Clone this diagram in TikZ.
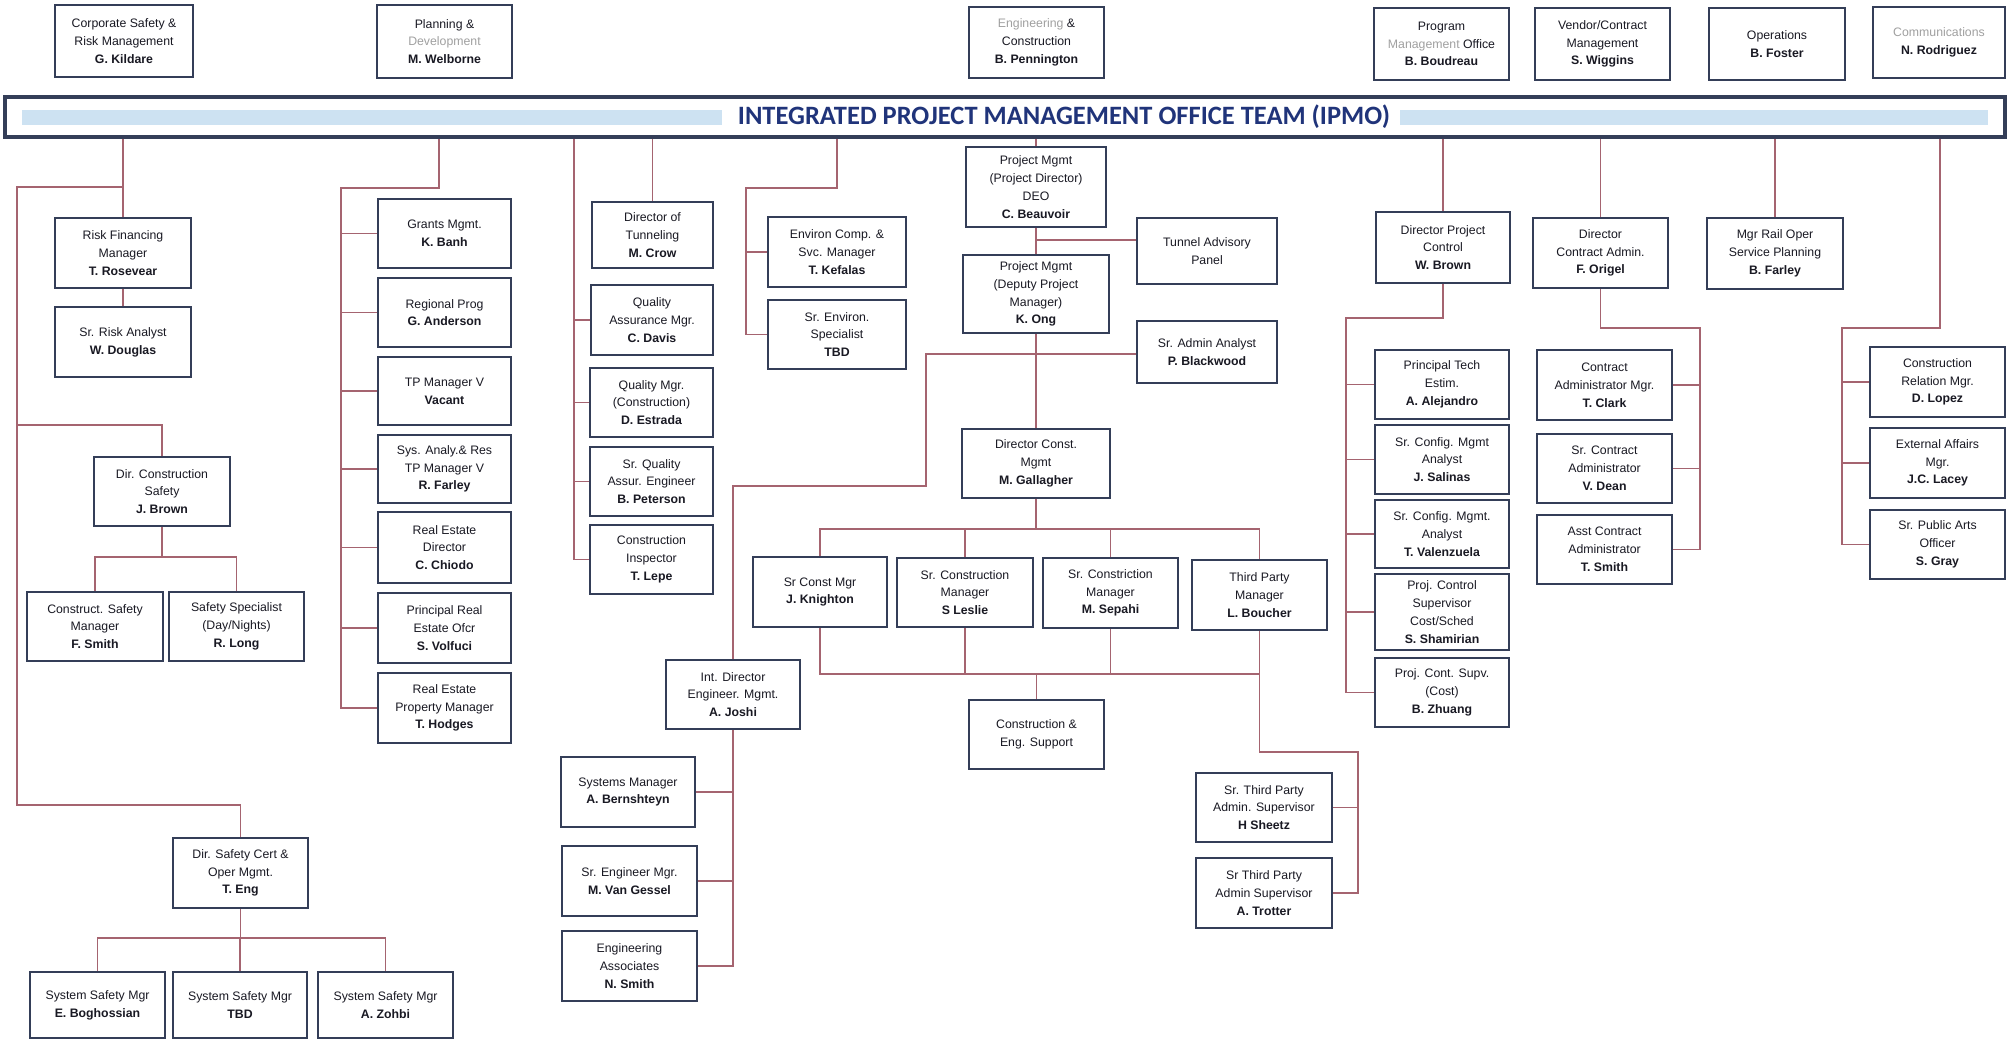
\documentclass[tikz,border=0pt]{standalone}
\usepackage{fontspec}
\setmainfont{Liberation Sans}
\newfontfamily\titlefont{Carlito}
\definecolor{boxc}{RGB}{52,62,88}
\definecolor{linec}{RGB}{165,100,112}
\definecolor{titlec}{RGB}{32,52,122}
\definecolor{bandc}{RGB}{205,226,242}
\definecolor{txt}{RGB}{25,25,35}
\definecolor{faded}{RGB}{160,160,160}
\newcommand\fd[1]{\textcolor{faded}{#1}}
\newcommand\nm[1]{\textbf{#1}}
% box given by its corners (x1,y1)-(x2,y2), y measured downwards
\newcommand\orgnode[6]{\node[orgbox, minimum width={#4-#2}, minimum height={#5-#3}] (#1) at ({(#2+#4)/2},{(#3+#5)/2}) {#6};}

\begin{document}
\begin{tikzpicture}[x=1pt,y=-1pt,
  orgbox/.style={draw=boxc, line width=2.7pt, fill=white, align=center, inner sep=0pt,
    text=txt, font=\fontsize{12.3}{17.8}\selectfont},
  conn/.style={draw=linec, line width=1.3pt}]
\fill[white] (0,0) rectangle (2009,1042);
\useasboundingbox (0,0) rectangle (2009,1042);

% ---------- title banner ----------
\node[draw=boxc, line width=3.5pt, fill=white, minimum width=2000pt, minimum height=40pt, inner sep=0pt] (ipmo) at (1005,117) {};
\fill[bandc] (22,110) rectangle (722,125);
\fill[bandc] (1400,110) rectangle (1988,125);
\node[font=\titlefont\bfseries\fontsize{26.5}{30}\selectfont, text=titlec, inner sep=0pt] (title) at (1064,117) {INTEGRATED PROJECT MANAGEMENT OFFICE TEAM (IPMO)};

% ---------- top row ----------
\orgnode{corp}{55}{5}{193}{77}{Corporate Safety \&\\Risk Management\\\nm{G. Kildare}}
\orgnode{plan}{377}{5}{512}{78}{Planning \&\\\fd{Development}\\\nm{M. Welborne}}
\orgnode{eng}{969}{7}{1104}{78}{\fd{Engineering} \&\\Construction\\\nm{B. Pennington}}
\orgnode{pmo}{1374}{8}{1509}{80}{Program\\\fd{Management} Office\\\nm{B. Boudreau}}
\orgnode{vend}{1535}{8}{1670}{80}{Vendor/Contract\\Management\\\nm{S. Wiggins}}
\orgnode{ops}{1709}{8}{1845}{80}{Operations\\\nm{B. Foster}}
\orgnode{comm}{1873}{7}{2005}{78}{\fd{Communications}\\\nm{N. Rodriguez}}

% ---------- corporate safety branch ----------
\orgnode{risk}{55}{218}{191}{288}{Risk Financing\\Manager\\\nm{T. Rosevear}}
\orgnode{ra}{55}{307}{191}{377}{Sr. Risk Analyst\\\nm{W. Douglas}}
\orgnode{dcs}{94}{457}{230}{526}{Dir. Construction\\Safety\\\nm{J. Brown}}
\orgnode{csm}{27}{592}{163}{661}{Construct. Safety\\Manager\\\nm{F. Smith}}
\orgnode{ssp}{169}{592}{304}{661}{Safety Specialist\\(Day/Nights)\\\nm{R. Long}}
\orgnode{dsc}{173}{838}{308}{908}{Dir. Safety Cert \&\\Oper Mgmt.\\\nm{T. Eng}}
\orgnode{ssa}{30}{972}{165}{1038}{System Safety Mgr\\\nm{E. Boghossian}}
\orgnode{ssb}{173}{972}{307}{1038}{System Safety Mgr\\\nm{TBD}}
\orgnode{ssc}{318}{972}{453}{1038}{System Safety Mgr\\\nm{A. Zohbi}}

% ---------- planning branch ----------
\orgnode{grants}{378}{199}{511}{268}{Grants Mgmt.\\\nm{K. Banh}}
\orgnode{reg}{378}{278}{511}{347}{Regional Prog\\\nm{G. Anderson}}
\orgnode{tp}{378}{357}{511}{425}{TP Manager V\\\nm{Vacant}}
\orgnode{sys}{378}{435}{511}{503}{Sys. Analy.\& Res\\TP Manager V\\\nm{R. Farley}}
\orgnode{red}{378}{512}{511}{583}{Real Estate\\Director\\\nm{C. Chiodo}}
\orgnode{pre}{378}{593}{511}{663}{Principal Real\\Estate Ofcr\\\nm{S. Volfuci}}
\orgnode{rep}{378}{673}{511}{743}{Real Estate\\Property Manager\\\nm{T. Hodges}}

% ---------- tunneling / quality ----------
\orgnode{tun}{592}{202}{713}{268}{Director of\\Tunneling\\\nm{M. Crow}}
\orgnode{qa}{591}{285}{713}{355}{Quality\\Assurance Mgr.\\\nm{C. Davis}}
\orgnode{qm}{590}{368}{713}{437}{Quality Mgr.\\(Construction)\\\nm{D. Estrada}}
\orgnode{sqa}{590}{447}{713}{516}{Sr. Quality\\Assur. Engineer\\\nm{B. Peterson}}
\orgnode{ci}{590}{525}{713}{594}{Construction\\Inspector\\\nm{T. Lepe}}

% ---------- environmental ----------
\orgnode{env}{768}{217}{906}{287}{Environ Comp. \&\\Svc. Manager\\\nm{T. Kefalas}}
\orgnode{sre}{768}{300}{906}{369}{Sr. Environ.\\Specialist\\\nm{TBD}}

% ---------- engineering & construction ----------
\orgnode{deo}{966}{147}{1106}{227}{Project Mgmt\\(Project Director)\\DEO\\\nm{C. Beauvoir}}
\orgnode{ong}{963}{255}{1109}{333}{Project Mgmt\\(Deputy Project\\Manager)\\\nm{K. Ong}}
\orgnode{tap}{1137}{218}{1277}{284}{Tunnel Advisory\\Panel}
\orgnode{blk}{1137}{321}{1277}{383}{Sr. Admin Analyst\\\nm{P. Blackwood}}
\orgnode{gal}{962}{429}{1110}{498}{Director Const.\\Mgmt\\\nm{M. Gallagher}}
\orgnode{kn}{753}{557}{887}{627}{Sr Const Mgr\\\nm{J. Knighton}}
\orgnode{les}{897}{558}{1033}{627}{Sr. Construction\\Manager\\\nm{S Leslie}}
\orgnode{sep}{1043}{558}{1178}{628}{Sr. Constriction\\Manager\\\nm{M. Sepahi}}
\orgnode{bou}{1192}{560}{1327}{630}{Third Party\\Manager\\\nm{L. Boucher}}
\orgnode{ces}{969}{700}{1104}{769}{Construction \&\\Eng. Support}
\orgnode{sh}{1196}{773}{1332}{842}{Sr. Third Party\\Admin. Supervisor\\\nm{H Sheetz}}
\orgnode{tr}{1196}{858}{1332}{928}{Sr Third Party\\Admin Supervisor\\\nm{A. Trotter}}
\orgnode{jo}{666}{660}{800}{729}{Int. Director\\Engineer. Mgmt.\\\nm{A. Joshi}}
\orgnode{ber}{561}{757}{695}{827}{Systems Manager\\\nm{A. Bernshteyn}}
\orgnode{vg}{562}{846}{697}{916}{Sr. Engineer Mgr.\\\nm{M. Van Gessel}}
\orgnode{ns}{562}{931}{697}{1001}{Engineering\\Associates\\\nm{N. Smith}}

% ---------- program management office ----------
\orgnode{wb}{1376}{212}{1510}{283}{Director Project\\Control\\\nm{W. Brown}}
\orgnode{pte}{1375}{350}{1509}{419}{Principal Tech\\Estim.\\\nm{A. Alejandro}}
\orgnode{sal}{1375}{425}{1509}{494}{Sr. Config. Mgmt\\Analyst\\\nm{J. Salinas}}
\orgnode{val}{1375}{500}{1509}{568}{Sr. Config. Mgmt.\\Analyst\\\nm{T. Valenzuela}}
\orgnode{sha}{1375}{574}{1509}{650}{Proj. Control\\Supervisor\\Cost/Sched\\\nm{S. Shamirian}}
\orgnode{zh}{1375}{658}{1509}{727}{Proj. Cont. Supv.\\(Cost)\\\nm{B. Zhuang}}

% ---------- contract administration ----------
\orgnode{fo}{1533}{218}{1668}{288}{Director\\Contract Admin.\\\nm{F. Origel}}
\orgnode{tc}{1537}{350}{1672}{420}{Contract\\Administrator Mgr.\\\nm{T. Clark}}
\orgnode{vd}{1537}{434}{1672}{503}{Sr. Contract\\Administrator\\\nm{V. Dean}}
\orgnode{ts}{1537}{515}{1672}{584}{Asst Contract\\Administrator\\\nm{T. Smith}}

% ---------- operations ----------
\orgnode{bf}{1707}{218}{1843}{289}{Mgr Rail Oper\\Service Planning\\\nm{B. Farley}}

% ---------- communications ----------
\orgnode{dl}{1870}{347}{2005}{417}{Construction\\Relation Mgr.\\\nm{D. Lopez}}
\orgnode{jl}{1870}{428}{2005}{498}{External Affairs\\Mgr.\\\nm{J.C. Lacey}}
\orgnode{sg}{1870}{510}{2005}{579}{Sr. Public Arts\\Officer\\\nm{S. Gray}}

% ================= connectors =================
% corporate safety
\coordinate (c1) at (17,187);
\coordinate (c2) at (17,805);
\coordinate (c3) at (17,425);
\coordinate (c4) at (0,557);
\coordinate (c5) at (0,938);
\draw[conn] (ipmo.south -| risk.north) -- (risk.north);
\draw[conn] (risk.south) -- (ra.north);
\draw[conn] (risk.north |- c1) -- (c1) -- (c2) -| (dsc.north);
\draw[conn] (c3) -| (dcs.north);
\draw[conn] (dcs.south) -- (dcs.south |- c4);
\draw[conn] (csm.north) |- (ssp.north |- c4) -- (ssp.north);
\draw[conn] (dsc.south) -- (dsc.south |- c5);
\draw[conn] (ssa.north) |- (ssc.north |- c5) -- (ssc.north);
\draw[conn] (ssb.north) -- (ssb.north |- c5);

% planning
\coordinate (p1) at (439,188);
\coordinate (p2) at (341,188);
\draw[conn] (ipmo.south -| p1) -- (p1) -- (p2) |- (rep.west);
\foreach \n in {grants,reg,tp,sys,red,pre} \draw[conn] (p2 |- \n.west) -- (\n.west);

% tunneling and quality
\coordinate (q1) at (574,0);
\draw[conn] (ipmo.south -| q1) |- (ci.west);
\foreach \n in {qa,qm,sqa} \draw[conn] (q1 |- \n.west) -- (\n.west);
\draw[conn] (ipmo.south -| tun.north) -- (tun.north);

% environmental
\coordinate (e1) at (837,188);
\coordinate (e2) at (746,188);
\draw[conn] (ipmo.south -| e1) -- (e1) -- (e2) |- (sre.west);
\draw[conn] (e2 |- env.west) -- (env.west);

% engineering & construction
\coordinate (d1) at (1036,240);
\coordinate (d2) at (1036,354);
\coordinate (d3) at (926,486);
\coordinate (g1) at (0,529);
\coordinate (g2) at (0,674);
\coordinate (t1) at (1358,752);
\draw[conn] (ipmo.south -| deo.north) -- (deo.north);
\draw[conn] (deo.south) -- (ong.north);
\draw[conn] (d1) -- (d1 -| tap.west);
\draw[conn] (ong.south) -- (gal.north);
\draw[conn] (d2) -- (d2 -| blk.west);
\draw[conn] (d2) -| (d3) -| (jo.north);
\draw[conn] (gal.south) -- (gal.south |- g1);
\draw[conn] (kn.north) |- (bou.north |- g1) -- (bou.north);
\draw[conn] (les.north) -- (les.north |- g1);
\draw[conn] (sep.north) -- (sep.north |- g1);
\draw[conn] (kn.south) |- (bou.south |- g2);
\draw[conn] (les.south) -- (les.south |- g2);
\draw[conn] (sep.south) -- (sep.south |- g2);
\draw[conn] (ces.north) -- (ces.north |- g2);
\draw[conn] (bou.south) |- (t1) |- (tr.east);
\draw[conn] (t1 |- sh.east) -- (sh.east);
\draw[conn] (jo.south) |- (ns.east);
\draw[conn] (jo.south |- ber.east) -- (ber.east);
\draw[conn] (jo.south |- vg.east) -- (vg.east);

% project control
\coordinate (w1) at (1346,318);
\draw[conn] (ipmo.south -| wb.north) -- (wb.north);
\draw[conn] (wb.south) |- (w1) |- (zh.west);
\foreach \n in {pte,sal,val,sha} \draw[conn] (w1 |- \n.west) -- (\n.west);

% contract administration
\coordinate (f1) at (1700,328);
\draw[conn] (ipmo.south -| fo.north) -- (fo.north);
\draw[conn] (fo.south) |- (f1) |- (ts.east);
\foreach \n in {tc,vd} \draw[conn] (f1 |- \n.east) -- (\n.east);

% operations
\draw[conn] (ipmo.south -| bf.north) -- (bf.north);

% communications
\coordinate (m1) at (1940,328);
\coordinate (m2) at (1842,328);
\draw[conn] (ipmo.south -| m1) -- (m1) -- (m2) |- (sg.west);
\foreach \n in {dl,jl} \draw[conn] (m2 |- \n.west) -- (\n.west);
\end{tikzpicture}
\end{document}
